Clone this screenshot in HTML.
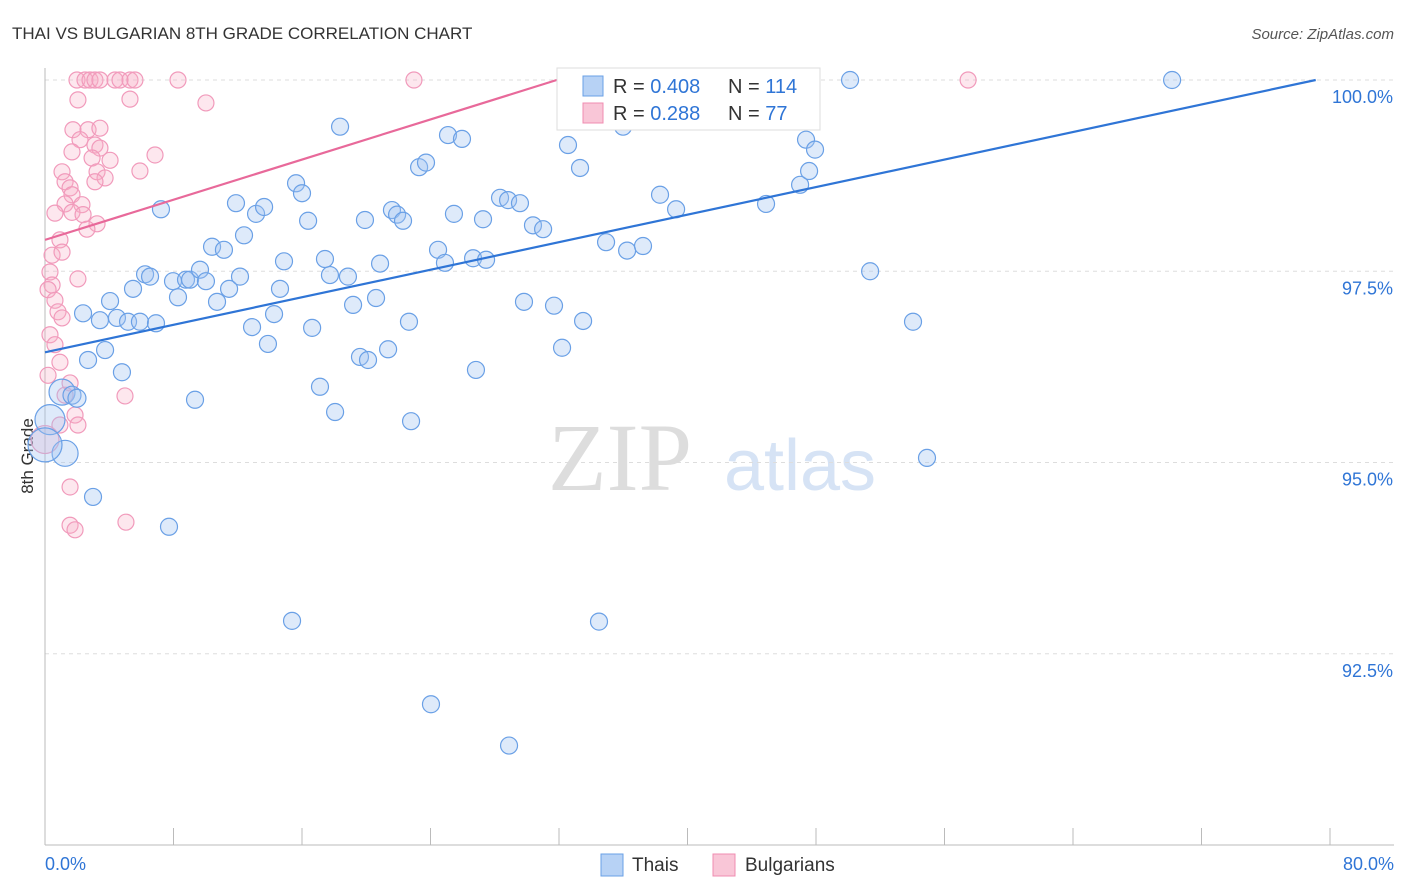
<!DOCTYPE html>
<html><head><meta charset="utf-8"><style>
body{margin:0;background:#fff;font-family:"Liberation Sans",sans-serif;}
svg{display:block}
</style></head><body>
<svg id="chart" width="1406" height="892" xmlns="http://www.w3.org/2000/svg">
<text x="12" y="39" font-size="17" fill="#333">THAI VS BULGARIAN 8TH GRADE CORRELATION CHART</text>
<text x="1394" y="39" font-size="15" fill="#555" font-style="italic" text-anchor="end">Source: ZipAtlas.com</text>
<text x="33" y="456" font-size="17" fill="#333" text-anchor="middle" transform="rotate(-90 33 456)">8th Grade</text>
<text x="620" y="490" font-size="96" fill="#ddd" font-family="Liberation Serif,serif" text-anchor="middle">ZIP</text>
<text x="800" y="490" font-size="72" fill="#d6e3f5" text-anchor="middle">atlas</text>
<g id="grid"></g><g id="axes"></g><g id="pts"></g><g id="lines"></g>
<g>
<rect x="557" y="68" width="263" height="62" fill="#fff" stroke="#ddd"/>
<rect x="583" y="76" width="20" height="20" fill="#b7d2f5" stroke="#6aa0e6"/>
<rect x="583" y="103" width="20" height="20" fill="#f9c6d7" stroke="#f08cb0"/>
<text x="613" y="93" font-size="20" fill="#333">R = <tspan fill="#2f75d6">0.408</tspan></text>
<text x="728" y="93" font-size="20" fill="#333">N = <tspan fill="#2f75d6">114</tspan></text>
<text x="613" y="120" font-size="20" fill="#333">R =  <tspan fill="#2f75d6">0.288</tspan></text>
<text x="728" y="120" font-size="20" fill="#333">N =  <tspan fill="#2f75d6">77</tspan></text>
</g>
<g>
<rect x="601" y="854" width="22" height="22" fill="#b7d2f5" stroke="#6aa0e6"/>
<text x="632" y="871" font-size="19" fill="#333">Thais</text>
<rect x="713" y="854" width="22" height="22" fill="#f9c6d7" stroke="#f08cb0"/>
<text x="745" y="871" font-size="19" fill="#333">Bulgarians</text>
</g>
<text x="45" y="870" font-size="18" fill="#2f75d6">0.0%</text>
<text x="1394" y="870" font-size="18" fill="#2f75d6" text-anchor="end">80.0%</text>
</svg>
<script>
const yTicks=[100,97.5,95,92.5];
const yTickLabels=["100.0%","97.5%","95.0%","92.5%"];
const xTicks=[0,8,16,24,32,40,48,56,64,72,80];
const thaiX=[1.06,1.68,1.99,1.25,0.31,0.0,2.99,2.37,2.68,3.42,3.74,4.05,4.48,4.79,5.17,5.48,5.91,6.23,6.54,6.91,7.22,7.72,7.97,8.28,8.78,9.03,9.34,9.65,10.02,10.40,10.71,11.14,11.46,11.89,12.14,12.39,12.89,13.14,13.64,13.88,14.26,14.63,14.88,15.38,15.63,16.00,16.38,16.63,17.12,17.43,17.74,18.06,18.37,18.86,19.18,19.61,19.92,20.11,20.61,20.86,21.36,21.60,21.92,22.29,22.79,22.66,23.29,23.72,24.03,24.47,24.90,25.09,25.46,25.96,26.65,26.83,27.27,27.46,28.33,28.83,28.89,29.57,29.82,30.38,31.01,31.69,32.19,32.56,32.94,33.31,33.50,34.49,34.93,35.99,36.24,36.61,37.23,38.29,39.29,40.09,41.65,44.89,47.01,47.38,47.57,47.94,50.12,51.37,54.04,54.91,70.17,34.43,38.29];
const thaiY=[95.92,95.88,95.84,95.12,95.56,95.23,94.55,96.95,96.34,96.86,96.47,97.11,96.89,96.18,96.84,97.27,96.84,97.46,97.43,96.82,98.31,94.16,97.37,97.16,97.39,97.39,95.82,97.52,97.37,97.82,97.10,97.78,97.27,98.39,97.43,97.97,96.77,98.25,98.34,96.55,96.94,97.27,97.63,92.93,98.65,98.52,98.16,96.76,95.99,97.66,97.45,95.66,99.39,97.43,97.06,96.38,98.17,96.34,97.15,97.60,96.48,98.30,98.24,98.16,95.54,96.84,98.86,98.92,91.84,97.78,97.61,99.28,98.25,99.23,97.67,96.21,98.18,97.65,98.46,98.43,91.30,98.39,97.10,98.10,98.05,97.05,96.50,99.15,100,98.85,96.85,92.92,97.88,99.39,97.77,99.57,97.83,98.50,98.31,100,100,98.38,98.63,99.22,98.81,99.09,100,97.50,96.84,95.06,100,100,100];
const thaiSize=[13,9,9,13,15,17];
const bulgX=[1.99,2.49,2.80,3.11,3.42,4.36,4.67,5.29,5.60,8.28,22.97,57.47,2.05,5.29,10.02,1.74,2.68,3.42,2.18,3.11,1.68,3.42,4.05,6.85,2.93,1.06,3.24,5.91,1.25,1.56,3.74,3.11,1.68,1.25,2.30,0.62,1.68,2.37,3.24,2.61,0.93,0.44,1.06,0.31,2.05,0.44,0.19,0.62,0.81,1.06,0.31,0.62,0.93,0.19,1.56,1.25,4.98,1.87,2.05,0.93,1.56,1.56,1.87,5.04,0.0];
const bulgY=[100,100,100,100,100,100,100,100,100,100,100,100,99.74,99.75,99.70,99.35,99.35,99.37,99.22,99.15,99.06,99.11,98.95,99.02,98.98,98.80,98.80,98.81,98.67,98.59,98.72,98.67,98.50,98.38,98.37,98.26,98.27,98.24,98.12,98.05,97.91,97.71,97.75,97.49,97.40,97.32,97.26,97.12,96.97,96.89,96.67,96.54,96.31,96.14,96.04,95.88,95.87,95.62,95.49,95.49,94.68,94.18,94.12,94.22,95.3];
const thaiTrend=[96.44,0.045];
const bulgTrend=[97.91,0.0656];
const X0=45,X1=1330,YT=80,YB=845;
const sx=v=>X0+(v/80)*(X1-X0);
const sy=v=>YT+(100-v)/10*(YB-YT);
const NS="http://www.w3.org/2000/svg";
function mk(tag,attrs,parent){const e=document.createElementNS(NS,tag);for(const k in attrs)e.setAttribute(k,attrs[k]);document.getElementById(parent).appendChild(e);return e;}
yTicks.forEach((t,i)=>{
 const l=mk('line',{x1:X0,x2:1394,y1:sy(t),y2:sy(t),stroke:'#ddd','stroke-dasharray':'4,4'},'grid');
 
 
 const tx=mk('text',{x:1393,y:sy(t)+23,'font-size':18,fill:'#2f75d6','text-anchor':'end'},'grid');
 tx.textContent=yTickLabels[i];
 
 
});
const ax=mk('line',{x1:X0,x2:X0,y1:68,y2:YB,stroke:'#bbb'},'axes');


const bx=mk('line',{x1:X0,x2:1394,y1:YB,y2:YB,stroke:'#bbb'},'axes');


xTicks.forEach(t=>{
 const l=mk('line',{x1:sx(t),x2:sx(t),y1:828,y2:YB,stroke:'#bbb'},'axes');
 
 
});
bulgX.forEach((v,i)=>{
 const c=mk('circle',{cx:sx(v),cy:sy(bulgY[i]),r:i==bulgX.length-1?14:8,fill:'rgba(248,175,200,0.3)',stroke:'#f19abb','stroke-width':1.2},'pts');
 
 
});
thaiX.forEach((v,i)=>{
 const c=mk('circle',{cx:sx(v),cy:sy(thaiY[i]),r:thaiSize[i]||8.5,fill:'rgba(160,196,240,0.35)',stroke:'#6aa0e6','stroke-width':1.2},'pts');
 
 
});
function trend(tr,col,name){
 const xe=Math.min(80,(100-tr[0])/tr[1]);
 const l=mk('line',{x1:sx(0),y1:sy(tr[0]),x2:sx(xe),y2:sy(tr[0]+tr[1]*xe),stroke:col,'stroke-width':2.2},'lines');
 
 
}
trend(thaiTrend,'#2f75d6','thai-trend-line');
trend(bulgTrend,'#e8699a','bulgarian-trend-line');
</script>
</body></html>
